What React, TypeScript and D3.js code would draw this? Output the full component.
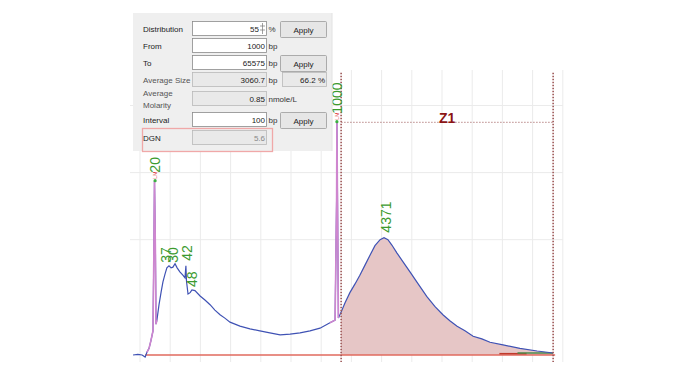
import * as d3 from "d3";

// migration time (grid units) / signal (RFU)
const traceTime = [
  -0.23, -0.07, 0.07, 0.17, 0.23, 0.3, 0.36, 0.43, 0.46, 0.48, 0.51, 0.53, 0.56, 0.63, 0.7, 0.76, 0.83, 0.89,
  0.96, 1.03, 1.09, 1.16, 1.23, 1.32, 1.42, 1.49, 1.52, 1.54, 1.59, 1.66, 1.72, 1.82, 1.99, 2.15, 2.32, 2.48,
  2.65, 2.81, 2.98, 3.31, 3.64, 3.97, 4.3, 4.64, 4.97, 5.3, 5.63, 5.96, 6.29, 6.46, 6.51, 6.52, 6.54, 6.57,
  6.66, 6.79, 6.95, 7.12, 7.28, 7.45, 7.62, 7.78, 7.95, 8.08, 8.21, 8.34, 8.51, 8.71, 8.94, 9.21, 9.5, 9.77,
  10.03, 10.26, 10.5, 10.76, 11.03, 11.32, 11.59, 12.02, 12.58, 13.15, 13.68,
];
const traceRfu = [
  0, 1, 0, -3, 4, 10, 21, 36, 157, 260, 157, 46, 52, 75, 94, 109, 121, 130,
  133, 130, 131, 136, 130, 124, 119, 115, 133, 110, 91, 93, 97, 96, 88, 82, 75, 67,
  60, 55, 49, 43, 39, 36, 33, 30, 31, 33, 36, 40, 48, 52, 231, 348, 231, 55,
  64, 78, 93, 106, 119, 134, 149, 163, 172, 175, 172, 164, 152, 139, 124, 106, 87, 72,
  60, 51, 43, 36, 28, 24, 19, 15, 10, 6, 3,
];

// marker (lower / upper) windows drawn in pink
const markerWindows: [number, number][] = [
  [0.2, 0.56],
  [6.28, 6.6],
];

const peakNames = ["20", "37", "30", "42", "48", "1000", "4371"];
const peakTime = [0.5, 0.85, 1.08, 1.56, 1.73, 6.52, 8.15];
const peakRfu = [260, 130, 130, 133, 94, 348, 175];
const markerPeaks = ["20", "1000"];

const zoneName = "Z1";
const zoneStart = 6.66;
const zoneEnd = 13.68;
const zoneLevel = 347;

// smear baseline segments at the right end
const smearStart = [11.9, 12.5];
const smearEnd = [12.8, 13.68];
const smearLevel = [2, 3];

const xGrid = d3.range(0, 15);
const yGrid = [172, 272, 372];

const panelLabels = [["Distribution"], ["From"], ["To"], ["Average Size"], ["Average", "Molarity"], ["Interval"], ["DGN"]];
const panelValues = ["55", "1000", "65575", "3060.7", "0.85", "100", "5.6"];
const panelUnits = ["%", "bp", "bp", "bp", "nmole/L", "bp", ""];
const panelEnabled = [true, true, true, false, false, true, false];
const panelButton = [true, false, true, false, false, true, false];
const panelExtra = ["", "", "", "66.2 %", "", "", ""];

const W = 692;
const H = 370;

const x = d3.scaleLinear().domain([0, 14]).range([140, 562.8]);
const y = d3.scaleLinear().domain([0, 425]).range([355, 70]);

const pts = traceTime.map((t, i) => [t, traceRfu[i]] as [number, number]);

const line = d3
  .line<[number, number]>()
  .x((d) => x(d[0]))
  .y((d) => y(d[1]));

const area = d3
  .area<[number, number]>()
  .x((d) => x(d[0]))
  .y0(y(0))
  .y1((d) => y(d[1]));

const BLUE = "#3f52b4";
const PINK = "#cf86cf";
const GREEN = "#3c9a2e";
const DOT = "#9c5656";

function Panel() {
  const rowY = [29, 46, 63, 80, 99, 120, 138];
  const font = { fontFamily: "Liberation Sans, Arial, sans-serif", fontSize: 8 };
  return (
    <g style={font}>
      <rect x={133} y={13} width={199} height={138} fill="#efefef" />
      <line x1={332} y1={13} x2={332} y2={151} stroke="#e2e2e2" />
      {panelLabels.map((lab, i) => {
        const cy = rowY[i];
        const en = panelEnabled[i];
        return (
          <g key={i}>
            {lab.map((s, j) => (
              <text
                key={j}
                x={143}
                y={cy + 3 + (lab.length > 1 ? (j - 0.5) * 12 : 0)}
                fill={en || i === 6 ? "#222" : "#555"}
              >
                {s}
              </text>
            ))}
            <rect
              x={192.5}
              y={cy - 7.5}
              width={74}
              height={14}
              fill={en ? "#fff" : "#e9e9e9"}
              stroke={en ? "#8a8a8a" : "#b8b8b8"}
              strokeWidth={0.8}
            />
            <text
              x={i === 0 ? 259 : 265}
              y={cy + 3}
              textAnchor="end"
              fill={i === 6 ? "#888" : "#222"}
            >
              {panelValues[i]}
            </text>
            {i === 0 && (
              <g stroke="#777" strokeWidth={0.7}>
                <line x1={260} y1={cy - 3} x2={265} y2={cy - 3} />
                <line x1={260} y1={cy + 1} x2={265} y2={cy + 1} />
                <line x1={262.5} y1={cy - 6} x2={262.5} y2={cy + 5} />
              </g>
            )}
            <text x={268.5} y={cy + 3} fill="#333">
              {panelUnits[i]}
            </text>
            {panelButton[i] && (
              <g>
                <rect x={280.5} y={cy - 7.5} width={46} height={16} fill="#e6e6e6" stroke="#9a9a9a" strokeWidth={0.8} rx={1} />
                <text x={303.5} y={cy + 3.5} textAnchor="middle" fill="#222">
                  Apply
                </text>
              </g>
            )}
            {panelExtra[i] && (
              <g>
                <rect x={282.5} y={cy - 7.5} width={44} height={14} fill="#e9e9e9" stroke="#b8b8b8" strokeWidth={0.8} />
                <text x={325} y={cy + 3} textAnchor="end" fill="#222">
                  {panelExtra[i]}
                </text>
              </g>
            )}
          </g>
        );
      })}
      <rect x={142.5} y={128.5} width={130} height={23} fill="none" stroke="#f0a8a8" strokeWidth={1.3} />
    </g>
  );
}

export default function App() {
  const zonePts = pts.filter((d) => d[0] >= zoneStart && d[0] <= zoneEnd);
  const markerPts = markerWindows.map(([a, b]) => pts.filter((d) => d[0] >= a && d[0] <= b));
  const labelFont = { fontFamily: "Liberation Sans, Arial, sans-serif", fontSize: 14 };

  return (
    <svg width={W} height={H} style={{ position: "absolute", left: 0, top: 0, background: "#fff" }}>
      {/* grid */}
      <g stroke="#ebebeb" strokeWidth={1}>
        {xGrid.map((t) => (
          <line key={t} x1={x(t)} x2={x(t)} y1={y(425)} y2={y(0) + 7} />
        ))}
        {yGrid.map((v) => (
          <line key={v} x1={130} x2={x(14)} y1={y(v)} y2={y(v)} />
        ))}
      </g>

      {/* zone fill */}
      <path d={area(zonePts) || ""} fill="#e6c6c6" />

      {/* baseline */}
      <line x1={x(0.17)} x2={x(zoneEnd) + 2} y1={y(0)} y2={y(0)} stroke="#e06a5e" strokeWidth={1.5} />
      {smearStart.map((s, i) => (
        <line
          key={i}
          x1={x(s)}
          x2={x(smearEnd[i])}
          y1={y(smearLevel[i])}
          y2={y(smearLevel[i])}
          stroke={i === 0 ? "#c0392b" : "#4a8a4a"}
          strokeWidth={1.5}
        />
      ))}

      {/* trace */}
      <path d={line(pts) || ""} fill="none" stroke={BLUE} strokeWidth={1.2} />
      {markerPts.map((mp, i) => (
        <path key={i} d={line(mp) || ""} fill="none" stroke={PINK} strokeWidth={1.6} />
      ))}

      {/* zone bounds */}
      <g stroke={DOT} strokeDasharray="1.5,1.5">
        <line x1={x(zoneStart)} x2={x(zoneStart)} y1={y(421)} y2={y(0) + 7} strokeWidth={1.6} />
        <line x1={x(zoneEnd)} x2={x(zoneEnd)} y1={y(421)} y2={y(0) + 7} strokeWidth={1.6} />
        <line x1={x(zoneStart)} x2={x(zoneEnd)} y1={y(zoneLevel)} y2={y(zoneLevel)} strokeWidth={1} opacity={0.7} />
      </g>
      <text
        x={(x(zoneStart) + x(zoneEnd)) / 2}
        y={y(zoneLevel) + 1}
        textAnchor="middle"
        fill="#8b1414"
        fontWeight="bold"
        style={{ fontFamily: "Liberation Sans, Arial, sans-serif", fontSize: 14 }}
      >
        {zoneName}
      </text>

      {/* peak labels */}
      {peakNames.map((n, i) => {
        const isMarker = markerPeaks.includes(n);
        const px = x(peakTime[i]);
        const py = y(peakRfu[i]);
        const off = isMarker ? 8 : 5;
        return (
          <g key={n}>
            {isMarker && (
              <g>
                <circle cx={px} cy={py} r={1.6} fill="#3cb043" />
                <text
                  transform={`translate(${px},${py - 2}) rotate(-90)`}
                  dy="0.35em"
                  fill="#d33"
                  style={{ fontFamily: "Liberation Sans, Arial, sans-serif", fontSize: 5 }}
                >
                  LM
                </text>
              </g>
            )}
            <text transform={`translate(${px},${py - off}) rotate(-90)`} dy="0.36em" fill={GREEN} style={labelFont}>
              {n}
            </text>
          </g>
        );
      })}

      <Panel />
    </svg>
  );
}
